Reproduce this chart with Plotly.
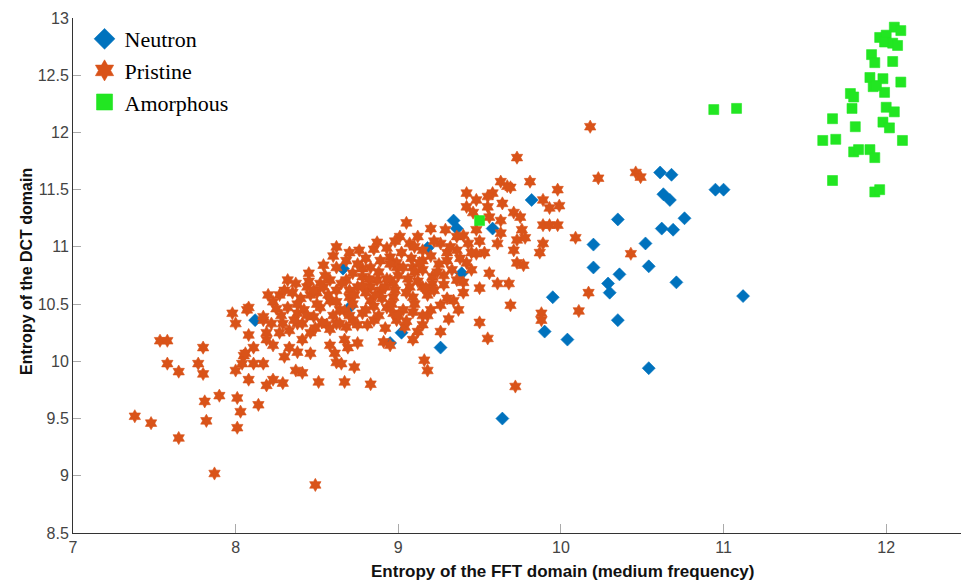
import plotly.graph_objects as go

# ---------------- data ----------------
neutron_x = [10.61, 10.68, 10.95, 11.00, 10.63, 10.67, 10.76, 10.35, 10.62, 10.69,
             10.52, 10.20, 10.20, 10.54, 10.36, 10.29, 10.71, 10.30, 9.95, 11.12,
             10.35, 9.90, 10.04, 10.54, 9.26, 9.02, 8.95, 9.64, 9.82, 9.34,
             9.36, 9.58, 9.18, 9.39, 8.66, 8.12, 8.70]
neutron_y = [11.65, 11.63, 11.50, 11.50, 11.46, 11.41, 11.25, 11.24, 11.16, 11.15,
             11.03, 11.02, 10.82, 10.83, 10.76, 10.68, 10.69, 10.60, 10.56, 10.57,
             10.36, 10.26, 10.19, 9.94, 10.12, 10.25, 10.16, 9.50, 11.41, 11.23,
             11.16, 11.16, 10.99, 10.77, 10.81, 10.36, 10.47]

pristine_x = [
    7.535, 7.58, 7.80, 7.58, 7.65, 7.77, 7.80, 7.98, 8.07, 8.00,
    8.08, 8.11, 8.05, 8.04, 8.00, 8.11, 8.17, 8.19, 8.08, 7.90,
    7.81, 8.01, 8.03, 8.14, 8.01, 7.82, 7.38, 7.48, 7.65, 7.87,
    8.19, 8.17, 8.49, 8.29, 8.51, 8.23,
    8.23, 8.06, 8.67, 8.83, 8.73, 8.37, 8.41, 8.46, 8.38, 8.30,
    8.62, 8.65, 8.75, 8.69, 8.58, 8.61, 8.92, 8.91, 8.95, 8.46,
    8.49, 8.56, 8.62, 8.68, 8.75, 8.81, 8.27, 8.33, 8.19, 8.29,
    8.38, 8.41, 8.33, 8.67,
    8.62, 8.76, 8.87, 8.93, 8.45, 8.54, 8.62, 8.68, 8.78, 8.32,
    8.37, 8.44, 8.46, 8.27, 8.23, 8.08, 8.17, 8.22, 8.32, 8.38,
    8.50, 8.54, 8.58, 8.62, 8.58, 8.52, 8.48, 8.41, 8.64, 8.70,
    8.75, 8.78, 8.83, 8.89, 8.95, 8.99, 8.95, 8.89, 8.83, 8.78,
    8.72, 8.85, 8.93, 8.97, 8.99, 8.64, 8.87, 8.83, 8.68, 8.72,
    9.73, 9.81, 9.63, 9.67, 9.42, 9.58, 9.64, 9.42, 9.46, 9.55,
    9.56, 9.63, 9.71, 9.75, 9.73, 9.76, 9.78, 9.71, 9.73, 9.77,
    9.89, 9.87, 9.89, 9.93, 9.98, 9.89, 9.93, 9.98, 9.48, 9.63,
    9.61, 9.53, 9.48, 9.05, 9.20, 9.29, 9.36, 9.43, 9.01, 9.07,
    9.26, 9.36, 9.30, 9.42, 9.15, 9.09, 8.99, 9.21, 9.36, 9.56,
    9.61, 9.68, 9.50, 8.97, 9.07, 9.12, 9.15, 9.48, 9.55,
    9.09, 8.97, 9.03, 9.09, 9.15, 9.21, 9.28, 9.26, 9.34, 9.37,
    9.18, 9.15, 9.04, 9.12, 9.09, 9.26, 9.31, 9.40, 9.69, 9.50,
    9.55, 9.16, 9.18, 9.72, 9.88, 9.88,
    10.18, 10.23, 10.46, 10.49, 10.09, 10.43, 10.17, 10.11, 9.99, 9.69,
    8.40, 8.45, 8.50, 8.55, 8.60, 8.65, 8.70, 8.72, 8.75, 8.80,
    8.82, 8.85, 8.88, 8.90, 8.92, 8.95, 9.00, 9.02, 9.05, 9.08,
    9.10, 9.12, 9.15, 9.18, 9.20, 9.22, 9.25, 9.28, 9.30, 8.35,
    8.38, 8.42, 8.48, 8.52, 8.57, 8.62, 8.67, 8.73, 8.78, 8.86,
    8.93, 8.98, 9.03, 9.06, 9.13, 9.17, 9.24, 8.28, 8.25, 8.20,
    8.30, 8.36, 8.44, 8.53, 8.58, 8.70, 8.80, 8.88, 8.96, 9.00,
    8.60, 8.70, 8.80, 8.85, 8.98, 9.10, 9.22, 9.32, 9.38, 9.45,
    9.40, 9.50, 9.33, 9.45, 9.40, 9.30, 9.20, 9.10, 9.15, 9.05,
]
pristine_y = [
    10.18, 10.18, 10.12, 9.98, 9.91, 9.98, 9.89, 10.42, 10.45, 10.33,
    10.23, 10.12, 10.05, 9.98, 9.92, 9.98, 9.98, 9.79, 9.84, 9.70,
    9.65, 9.68, 9.56, 9.62, 9.42, 9.48, 9.52, 9.46, 9.33, 9.02,
    10.19, 10.36, 8.92, 9.81, 9.82, 9.84,
    10.14, 10.07, 9.82, 9.80, 9.95, 9.92, 9.90, 10.07, 10.08, 10.04,
    9.99, 9.98, 10.16, 10.12, 10.14, 10.07, 10.29, 10.17, 10.14, 10.25,
    10.29, 10.32, 10.33, 10.30, 10.32, 10.32, 10.25, 10.27, 10.25, 10.33,
    10.33, 10.19, 10.12, 10.19,
    11.00, 10.97, 11.04, 10.99, 10.77, 10.84, 10.82, 10.88, 10.81, 10.71,
    10.68, 10.65, 10.58, 10.58, 10.52, 10.47, 10.39, 10.33, 10.47, 10.42,
    10.60, 10.65, 10.71, 10.62, 10.53, 10.47, 10.39, 10.33, 10.45, 10.56,
    10.65, 10.74, 10.82, 10.88, 10.91, 10.82, 10.71, 10.62, 10.53, 10.42,
    10.36, 10.36, 10.47, 10.56, 10.36, 10.33, 10.71, 10.65, 10.71, 10.77,
    11.78, 11.57, 11.57, 11.53, 11.47, 11.47, 11.38, 11.35, 11.30, 11.35,
    11.26, 11.23, 11.30, 11.26, 11.06, 11.15, 11.08, 10.97, 10.86, 10.84,
    11.03, 10.95, 11.19, 11.19, 11.19, 11.41, 11.34, 11.50, 11.15, 11.12,
    11.03, 10.95, 10.94, 11.21, 11.16, 11.15, 11.09, 11.03, 11.09, 11.03,
    11.03, 10.97, 10.88, 10.86, 10.88, 10.82, 10.86, 10.74, 10.71, 10.77,
    10.68, 10.68, 10.64, 10.68, 10.65, 11.09, 10.97, 11.41, 11.44,
    10.56, 10.42, 10.45, 10.43, 10.65, 10.68, 10.67, 10.49, 10.53, 10.45,
    10.40, 10.32, 10.30, 10.26, 10.19, 10.26, 10.37, 10.69, 10.49, 10.34,
    10.20, 10.01, 9.92, 9.78, 10.42, 10.36,
    12.05, 11.60, 11.65, 11.61, 11.08, 10.94, 10.60, 10.44, 11.36, 11.52,
    10.55, 10.70, 10.50, 10.75, 10.40, 10.68, 10.62, 10.50, 10.85, 10.60,
    10.72, 10.48, 10.78, 10.55, 10.65, 10.85, 10.75, 10.95, 10.60, 10.90,
    10.78, 10.70, 10.80, 10.58, 10.92, 10.62, 10.85, 10.75, 10.95, 10.60,
    10.50, 10.45, 10.62, 10.68, 10.58, 10.52, 10.44, 10.58, 10.66, 10.58,
    10.72, 10.62, 10.82, 10.72, 10.86, 10.64, 10.78, 10.40, 10.46, 10.58,
    10.62, 10.36, 10.40, 10.34, 10.28, 10.40, 10.45, 10.40, 10.50, 10.40,
    10.92, 10.95, 10.90, 10.98, 11.05, 11.00, 11.05, 11.00, 10.90, 10.95,
    11.10, 11.05, 10.80, 10.80, 10.60, 10.55, 10.45, 10.50, 10.40, 10.35,
]

amorphous_x = [10.94, 11.08, 12.05, 12.09, 11.96, 12.00, 11.99, 12.04, 12.07, 11.91,
               11.93, 12.04, 11.90, 11.92, 11.98, 11.99, 12.09, 11.78, 11.80, 11.79,
               12.00, 12.05, 11.67, 11.81, 11.98, 12.02, 11.61, 11.69, 12.10, 11.80,
               11.83, 11.90, 11.93, 11.67, 11.93, 11.96, 11.94, 9.50]
amorphous_y = [12.20, 12.21, 12.92, 12.89, 12.83, 12.85, 12.79, 12.78, 12.76, 12.68,
               12.61, 12.62, 12.48, 12.40, 12.47, 12.35, 12.44, 12.34, 12.31, 12.21,
               12.22, 12.18, 12.12, 12.05, 12.09, 12.04, 11.93, 11.94, 11.93, 11.83,
               11.85, 11.85, 11.78, 11.58, 11.48, 11.50, 12.41, 11.23]

x_ticks = [7, 8, 9, 10, 11, 12]
x_tick_labels = ["7", "8", "9", "10", "11", "12"]
y_ticks = [8.5, 9, 9.5, 10, 10.5, 11, 11.5, 12, 12.5, 13]
y_tick_labels = ["8.5", "9", "9.5", "10", "10.5", "11", "11.5", "12", "12.5", "13"]

names = ["Neutron", "Pristine", "Amorphous"]
colors = ["#0072BD", "#D95319", "#22E622"]
symbols = ["diamond", "hexagram", "square"]
sizes = [10, 10, 10]

# ---------------- figure ----------------
fig = go.Figure()
series = [(neutron_x, neutron_y), (pristine_x, pristine_y), (amorphous_x, amorphous_y)]
for (xs, ys), nm, c, s, sz in zip(series, names, colors, symbols, sizes):
    fig.add_trace(go.Scatter(
        x=xs, y=ys, mode="markers", name=nm, showlegend=False,
        marker=dict(symbol=s, size=sz, color=c, line=dict(width=0.6, color=c)),
    ))
# legend entries with larger symbols
for nm, c, s in zip(names, colors, symbols):
    fig.add_trace(go.Scatter(
        x=[None], y=[None], mode="markers", name=nm, showlegend=True,
        marker=dict(symbol=s, size=16, color=c, line=dict(width=0.6, color=c)),
    ))

axis_font = dict(family="Liberation Sans, Arial, sans-serif", size=16, color="#444444")
fig.update_layout(
    width=961, height=582,
    margin=dict(l=73, r=0, t=18, b=49, pad=0),
    paper_bgcolor="white", plot_bgcolor="white",
    showlegend=True,
    legend=dict(
        x=0.013, y=1.0, xanchor="left", yanchor="top",
        font=dict(family="Liberation Serif, Times New Roman, serif", size=22, color="black"),
        bgcolor="rgba(0,0,0,0)", borderwidth=0, tracegroupgap=0,
        itemsizing="trace",
    ),
    xaxis=dict(
        range=[7, 12.46], tickmode="array", tickvals=x_ticks, ticktext=x_tick_labels,
        ticks="inside", ticklen=9, tickcolor="#aaaaaa", tickwidth=1,
        showline=True, linecolor="#333333", linewidth=1,
        showgrid=False, zeroline=False, tickfont=axis_font,
    ),
    yaxis=dict(
        range=[8.5, 13], tickmode="array", tickvals=y_ticks, ticktext=y_tick_labels,
        ticks="inside", ticklen=8, tickcolor="#aaaaaa", tickwidth=1,
        showline=True, linecolor="#333333", linewidth=1,
        showgrid=False, zeroline=False, tickfont=axis_font,
    ),
    annotations=[
        dict(text="<b>Entropy of the FFT domain (medium frequency)</b>",
             xref="paper", yref="paper", x=0.551, y=-0.0757,
             xanchor="center", yanchor="middle", showarrow=False,
             font=dict(family="Liberation Sans, Arial, sans-serif", size=17, color="#111111")),
        dict(text="<b>Entropy of the DCT domain</b>",
             xref="paper", yref="paper", x=-0.0518, y=0.507, textangle=-90,
             xanchor="center", yanchor="middle", showarrow=False,
             font=dict(family="Liberation Sans, Arial, sans-serif", size=16, color="#111111")),
    ],
)

fig.write_html("out.html")
